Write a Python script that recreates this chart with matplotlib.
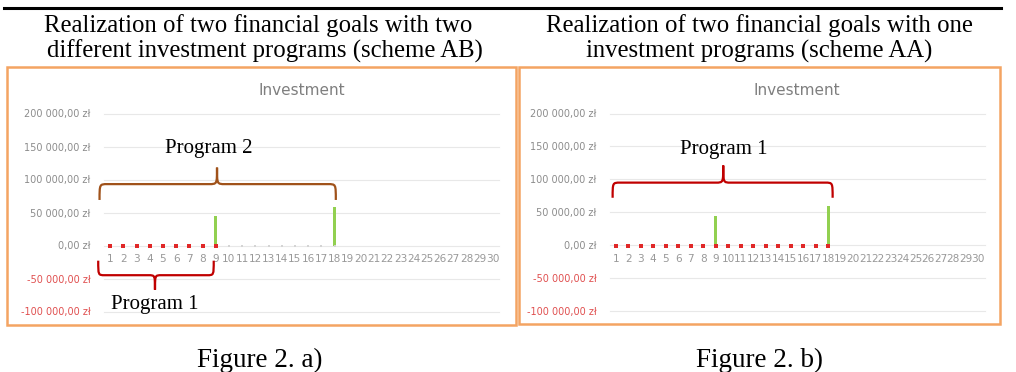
import numpy as np
import matplotlib.pyplot as plt
from matplotlib.path import Path
from matplotlib.patches import PathPatch, Rectangle

# ---- data ----
periods = np.arange(1, 31)
tick_values = [-100000, -50000, 0, 50000, 100000, 150000, 200000]
tick_labels = ['-100 000,00 zł', '-50 000,00 zł', '0,00 zł', '50 000,00 zł',
               '100 000,00 zł', '150 000,00 zł', '200 000,00 zł']

# scheme AB: program 1 pays in periods 1-9, program 2 in 10-18
ab_prog1_x = [1, 2, 3, 4, 5, 6, 7, 8, 9]
ab_prog1_y = [-1500] * 9
ab_prog2_x = [10, 11, 12, 13, 14, 15, 16, 17, 18]
ab_prog2_y = [-1500] * 9
ab_payout_x = [9, 18]
ab_payout_y = [44000, 59000]

# scheme AA: one program pays in periods 1-18
aa_prog_x = list(range(1, 19))
aa_prog_y = [-1500] * 18
aa_payout_x = [9, 18]
aa_payout_y = [44500, 59500]

W, H = 1016, 372
fig = plt.figure(figsize=(W / 100, H / 100), dpi=100)

ORANGE = '#f4a462'
RED = '#c00000'
BROWN = '#a0521a'
GREEN = '#92d050'
GREY = '#8c8c8c'
serif = 'Liberation Serif'


def fx(px):
    return px / W


def fy(py):
    return 1 - py / H


def brace(ax, x0, x1, xm, y_end, y_line, y_tip, color, d=0.6):
    verts = [(x0, y_end),
             (x0, y_line), (x0, y_line), (x0 + d, y_line),
             (xm - d, y_line),
             (xm, y_line), (xm, y_line), (xm, y_tip),
             (xm, y_line), (xm, y_line), (xm + d, y_line),
             (x1 - d, y_line),
             (x1, y_line), (x1, y_line), (x1, y_end)]
    codes = [Path.MOVETO,
             Path.CURVE4, Path.CURVE4, Path.CURVE4,
             Path.LINETO,
             Path.CURVE4, Path.CURVE4, Path.CURVE4,
             Path.CURVE4, Path.CURVE4, Path.CURVE4,
             Path.LINETO,
             Path.CURVE4, Path.CURVE4, Path.CURVE4]
    ax.add_patch(PathPatch(Path(verts, codes), fill=False, edgecolor=color,
                           lw=1.6, clip_on=False, zorder=5))


def excel_chart(rect, box):
    # orange frame of the pasted chart
    bx0, by0, bx1, by1 = box
    fig.patches.append(Rectangle((fx(bx0), fy(by1)), fx(bx1 - bx0), (by1 - by0) / H,
                                 transform=fig.transFigure, fill=False,
                                 edgecolor=ORANGE, lw=1.8))
    x0, y_top, x1, y_bot = rect
    ax = fig.add_axes([fx(x0), fy(y_bot), fx(x1 - x0), (y_bot - y_top) / H])
    ax.set_xlim(0.5, 30.5)
    ax.set_ylim(-100000, 200000)
    for v in tick_values:
        ax.axhline(v, color='#e8e8e8', lw=0.8, clip_on=False, zorder=0)
    for s in ax.spines.values():
        s.set_visible(False)
    ax.set_yticks(tick_values)
    ax.set_yticklabels(tick_labels, fontsize=7)
    for lab, v in zip(ax.get_yticklabels(), tick_values):
        lab.set_color('#e05050' if v < 0 else GREY)
    ax.tick_params(axis='y', length=0, pad=9.5)
    ax.spines['bottom'].set_position(('data', 0))
    ax.set_xticks(periods)
    ax.set_xticklabels([str(p) for p in periods], fontsize=7.6, color='#999999')
    ax.tick_params(axis='x', length=0, pad=6)
    ax.set_title('Investment', fontsize=11, color='#7f7f7f', pad=13)
    return ax


# ---- header of the table ----
fig.add_artist(plt.Line2D([fx(4), fx(1001)], [fy(8), fy(8)], color='black', lw=2.2))
fig.text(fx(258), fy(32), 'Realization of two financial goals with two',
         ha='center', va='baseline', fontsize=17.8, family=serif)
fig.text(fx(265), fy(58), 'different investment programs (scheme AB)',
         ha='center', va='baseline', fontsize=17.8, family=serif)
fig.text(fx(759), fy(32), 'Realization of two financial goals with one',
         ha='center', va='baseline', fontsize=17.8, family=serif)
fig.text(fx(759), fy(58), 'investment programs (scheme AA)',
         ha='center', va='baseline', fontsize=17.8, family=serif)

# ---- chart a) scheme AB ----
ax1 = excel_chart((103.5, 113.5, 499.5, 311.5), (7, 67, 516, 325))
ax1.bar(ab_payout_x, ab_payout_y, width=0.22, color=GREEN, zorder=3)
ax1.scatter(ab_prog1_x, ab_prog1_y, marker='s', s=5, color='#e02828', lw=0, zorder=4)
ax1.scatter(ab_prog2_x, ab_prog2_y, marker='s', s=4, color='#d4d4d4', lw=0, zorder=4)
brace(ax1, 0.2, 18.1, 9.1, 69000, 93000, 118000, BROWN)
ax1.text(8.5, 140000, 'Program 2', ha='center', va='baseline', fontsize=15, family=serif)
brace(ax1, 0.1, 8.85, 4.4, -23000, -45000, -67000, RED, d=0.5)
ax1.text(4.4, -96000, 'Program 1', ha='center', va='baseline', fontsize=15, family=serif)

# ---- chart b) scheme AA ----
ax2 = excel_chart((609.5, 113.5, 984.5, 311), (519, 67, 1000, 324))
ax2.bar(aa_payout_x, aa_payout_y, width=0.22, color=GREEN, zorder=3)
ax2.scatter(aa_prog_x, aa_prog_y, marker='s', s=5, color='#e02828', lw=0, zorder=4)
brace(ax2, 0.75, 18.35, 9.6, 72000, 95000, 121000, RED)
ax2.text(9.65, 139000, 'Program 1', ha='center', va='baseline', fontsize=15, family=serif)

# ---- captions ----
fig.text(fx(260), fy(367), 'Figure 2. a)', ha='center', va='baseline', fontsize=19.5, family=serif)
fig.text(fx(759), fy(367), 'Figure 2. b)', ha='center', va='baseline', fontsize=19.5, family=serif)

fig.savefig('out.png', dpi=100)
